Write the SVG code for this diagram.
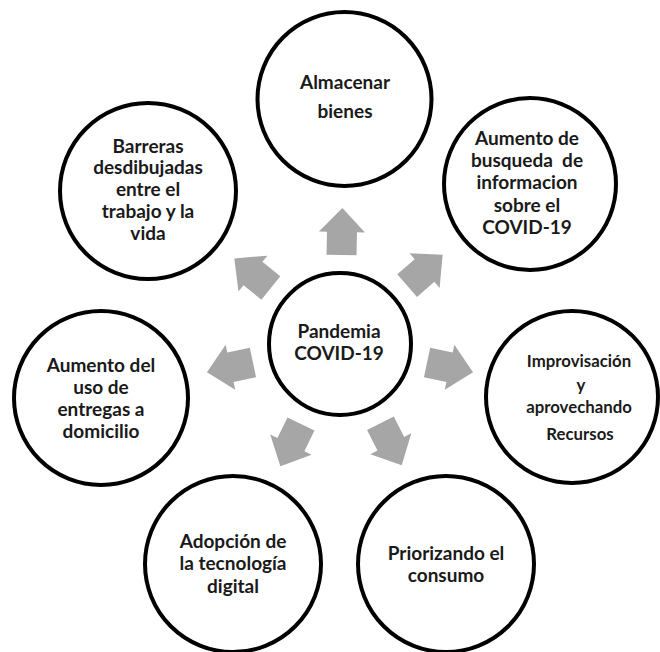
<svg xmlns="http://www.w3.org/2000/svg" xmlns:xlink="http://www.w3.org/1999/xlink" width="660" height="652" viewBox="0 0 660 652">
<style>
.c{fill:#fff;stroke:#000;stroke-width:4}
.t{font-family:Lato,"Liberation Sans",sans-serif;font-weight:bold;font-size:19px;fill:#1a1a1a;text-anchor:middle}
.s{font-size:16.8px}
.a{fill:#a6a6a6}
</style>
<defs>
<path id="arr" d="M89,-15 L112,-15 L112,-23 L136,0 L112,23 L112,15 L89,15 Z"/>
</defs>
<rect width="660" height="652" fill="#fff"/>
<g id="connectors" class="a">
<use xlink:href="#arr" transform="translate(340,344) rotate(-89)"/>
<use xlink:href="#arr" transform="translate(340,344) rotate(-41)"/>
<use xlink:href="#arr" transform="translate(340,344) rotate(-141)"/>
<use xlink:href="#arr" transform="translate(340,344) rotate(168)"/>
<use xlink:href="#arr" transform="translate(340,344) rotate(12)"/>
<use xlink:href="#arr" transform="translate(340,344) rotate(116)"/>
<use xlink:href="#arr" transform="translate(340,344) rotate(63)"/>
</g>
<g id="center">
<circle class="c" cx="340" cy="344" r="71"/>
<text class="t"><tspan x="339" y="338">Pandemia</tspan><tspan x="339" y="360">COVID-19</tspan></text>
</g>
<g id="almacenar">
<circle class="c" cx="344.5" cy="99" r="87"/>
<text class="t"><tspan x="345" y="89">Almacenar</tspan><tspan x="345" y="118">bienes</tspan></text>
</g>
<g id="busqueda">
<circle class="c" cx="530" cy="184" r="86"/>
<text class="t"><tspan x="527" y="145">Aumento de</tspan><tspan x="527" y="167">busqueda&#160; de</tspan><tspan x="527" y="189">informacion</tspan><tspan x="527" y="212">sobre el</tspan><tspan x="527" y="234">COVID-19</tspan></text>
</g>
<g id="barreras">
<circle class="c" cx="148" cy="191" r="88"/>
<text class="t"><tspan x="148" y="153">Barreras</tspan><tspan x="148" y="174">desdibujadas</tspan><tspan x="148" y="196">entre el</tspan><tspan x="148" y="218">trabajo y la</tspan><tspan x="148" y="240">vida</tspan></text>
</g>
<g id="entregas">
<circle class="c" cx="101" cy="398" r="87"/>
<text class="t"><tspan x="101" y="372">Aumento del</tspan><tspan x="101" y="394">uso de</tspan><tspan x="101" y="416">entregas a</tspan><tspan x="101" y="438">domicilio</tspan></text>
</g>
<g id="improvisacion">
<circle class="c" cx="572" cy="397" r="86"/>
<text class="t s"><tspan x="579" y="367">Improvisación</tspan></text>
<text class="t s"><tspan x="581" y="391">y</tspan></text>
<text class="t s"><tspan x="579" y="413">aprovechando</tspan></text>
<text class="t s"><tspan x="580" y="440">Recursos</tspan></text>
</g>
<g id="adopcion">
<circle class="c" cx="233" cy="564" r="88"/>
<text class="t"><tspan x="233" y="548">Adopción de</tspan><tspan x="233" y="570">la tecnología</tspan><tspan x="233" y="593">digital</tspan></text>
</g>
<g id="priorizando">
<circle class="c" cx="446" cy="564" r="88"/>
<text class="t"><tspan x="446" y="560">Priorizando el</tspan><tspan x="446" y="582">consumo</tspan></text>
</g>
</svg>
